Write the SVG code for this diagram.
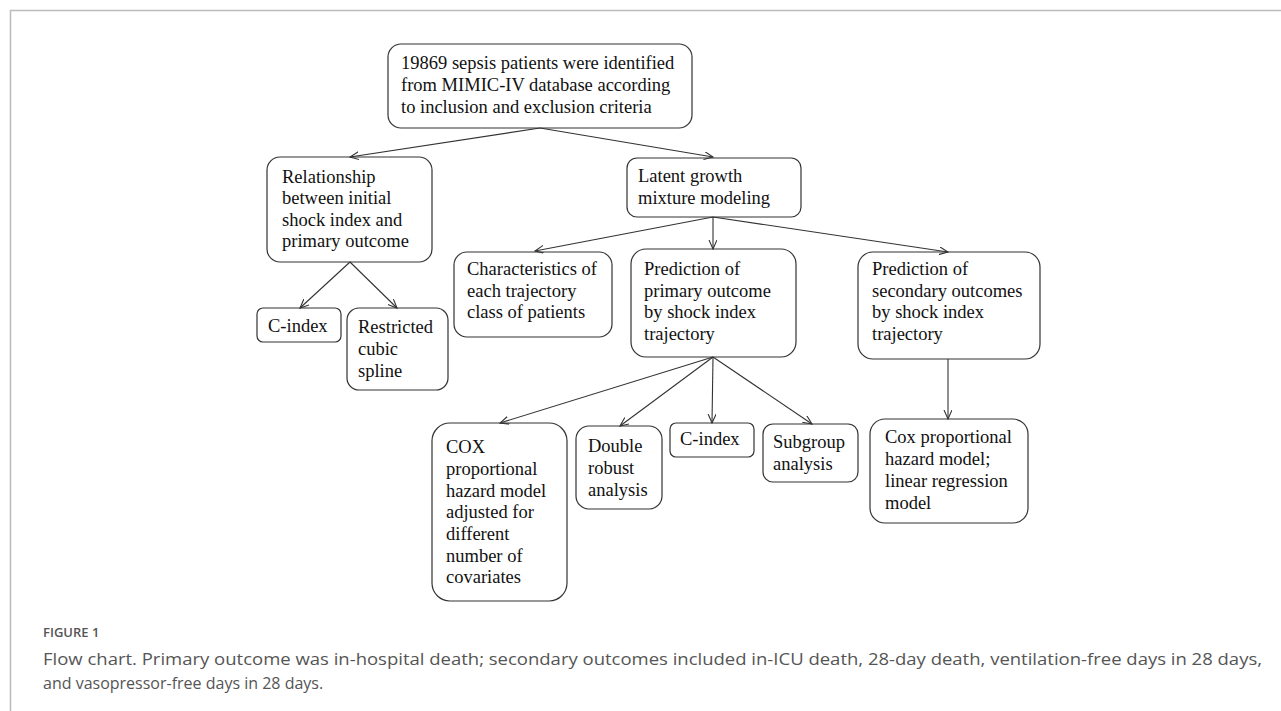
<svg xmlns="http://www.w3.org/2000/svg" width="1281" height="711" viewBox="0 0 1281 711">
<defs>
<marker id="arr" markerWidth="10" markerHeight="10" refX="9" refY="4" orient="auto" markerUnits="userSpaceOnUse">
<path d="M0,0 L9,4 L0,8" fill="none" stroke="#333" stroke-width="1.1"/>
</marker>
<style>
.box{fill:#fff;stroke:#333;stroke-width:1.2}
.t{font-family:"Liberation Serif","Times New Roman",serif;font-size:18.5px;fill:#111}
.c{stroke:#333;stroke-width:1.1;fill:none;marker-end:url(#arr)}
.cap{font-family:"Open Sans","Noto Sans",sans-serif;fill:#555}
</style>
</defs>
<rect x="0" y="0" width="1281" height="711" fill="#fff"/>
<path d="M10.5,711 L10.5,10.5 L1281,10.5" fill="none" stroke="#bbb" stroke-width="1.5"/>

<g id="n_top"><rect class="box" x="388" y="44" width="304" height="84" rx="13"/>
<text class="t" x="401" y="69">19869 sepsis patients were identified</text>
<text class="t" x="401" y="91">from MIMIC-IV database according</text>
<text class="t" x="401" y="113">to inclusion and exclusion criteria</text></g>

<g id="n_rel"><rect class="box" x="267" y="157" width="165" height="105" rx="13"/>
<text class="t" x="282" y="183">Relationship</text>
<text class="t" x="282" y="204">between initial</text>
<text class="t" x="282" y="226">shock index and</text>
<text class="t" x="282" y="247">primary outcome</text></g>

<g id="n_cidx1"><rect class="box" x="257" y="308" width="84" height="34" rx="6"/>
<text class="t" x="268" y="332">C-index</text></g>

<g id="n_rcs"><rect class="box" x="347" y="308" width="101" height="82" rx="12"/>
<text class="t" x="358" y="333">Restricted</text>
<text class="t" x="358" y="355">cubic</text>
<text class="t" x="358" y="377">spline</text></g>

<g id="n_lgmm"><rect class="box" x="627" y="158" width="174" height="59" rx="10"/>
<text class="t" x="638" y="182">Latent growth</text>
<text class="t" x="638" y="204">mixture modeling</text></g>

<g id="n_char"><rect class="box" x="454" y="252" width="158" height="85" rx="13"/>
<text class="t" x="467" y="275">Characteristics of</text>
<text class="t" x="467" y="297">each trajectory</text>
<text class="t" x="467" y="318">class of patients</text></g>

<g id="n_pprim"><rect class="box" x="631" y="249" width="165" height="108" rx="15"/>
<text class="t" x="644" y="275">Prediction of</text>
<text class="t" x="644" y="297">primary outcome</text>
<text class="t" x="644" y="318">by shock index</text>
<text class="t" x="644" y="340">trajectory</text></g>

<g id="n_psec"><rect class="box" x="858" y="252" width="182" height="107" rx="15"/>
<text class="t" x="872" y="275">Prediction of</text>
<text class="t" x="872" y="297">secondary outcomes</text>
<text class="t" x="872" y="318">by shock index</text>
<text class="t" x="872" y="340">trajectory</text></g>

<g id="n_cox"><rect class="box" x="432" y="423" width="135" height="178" rx="18"/>
<text class="t" x="446" y="453">COX</text>
<text class="t" x="446" y="475">proportional</text>
<text class="t" x="446" y="497">hazard model</text>
<text class="t" x="446" y="518">adjusted for</text>
<text class="t" x="446" y="540">different</text>
<text class="t" x="446" y="562">number of</text>
<text class="t" x="446" y="583">covariates</text></g>

<g id="n_dr"><rect class="box" x="576" y="426" width="86" height="83" rx="13"/>
<text class="t" x="588" y="452">Double</text>
<text class="t" x="588" y="474">robust</text>
<text class="t" x="588" y="496">analysis</text></g>

<g id="n_cidx2"><rect class="box" x="670" y="423" width="84" height="34" rx="6"/>
<text class="t" x="680" y="445">C-index</text></g>

<g id="n_sub"><rect class="box" x="763" y="424" width="95" height="58" rx="10"/>
<text class="t" x="773" y="448">Subgroup</text>
<text class="t" x="773" y="470">analysis</text></g>

<g id="n_coxlin"><rect class="box" x="870" y="419" width="158" height="104" rx="15"/>
<text class="t" x="885" y="443">Cox proportional</text>
<text class="t" x="885" y="465">hazard model;</text>
<text class="t" x="885" y="487">linear regression</text>
<text class="t" x="885" y="509">model</text></g>

<g id="connectors">
<line class="c" x1="540" y1="128" x2="350" y2="157"/>
<line class="c" x1="540" y1="128" x2="713" y2="157"/>
<line class="c" x1="350" y1="262" x2="300" y2="308"/>
<line class="c" x1="350" y1="262" x2="397" y2="308"/>
<line class="c" x1="713" y1="217" x2="535" y2="251"/>
<line class="c" x1="713" y1="217" x2="713" y2="249"/>
<line class="c" x1="713" y1="217" x2="948" y2="252"/>
<line class="c" x1="713" y1="357" x2="500" y2="423"/>
<line class="c" x1="713" y1="357" x2="620" y2="426"/>
<line class="c" x1="713" y1="357" x2="712" y2="423"/>
<line class="c" x1="713" y1="357" x2="812" y2="424"/>
<line class="c" x1="948" y1="359" x2="948" y2="419"/>
</g>

<g id="caption">
<text class="cap" x="43" y="637" font-size="13" font-weight="600" fill="#666">FIGURE 1</text>
<text class="cap" x="43" y="665" font-size="16" textLength="1219" lengthAdjust="spacingAndGlyphs">Flow chart. Primary outcome was in-hospital death; secondary outcomes included in-ICU death, 28-day death, ventilation-free days in 28 days,</text>
<text class="cap" x="43" y="689" font-size="16">and vasopressor-free days in 28 days.</text>
</g>
</svg>
